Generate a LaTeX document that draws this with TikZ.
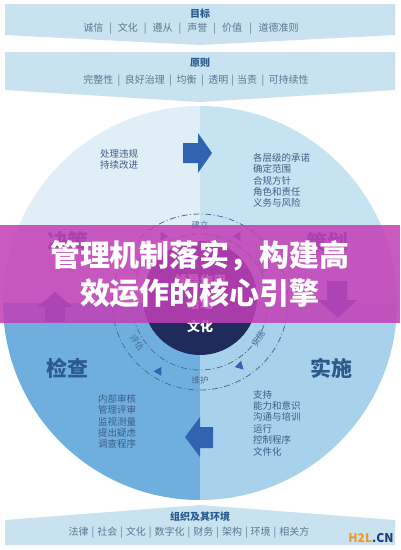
\documentclass[tikz,border=0pt]{standalone}
\usepackage{fontspec}
\newfontfamily\cjk{Noto Sans CJK SC}
\usetikzlibrary{positioning}
\definecolor{band_fill}{HTML}{C8E2F0}
\definecolor{title_blue}{HTML}{2A5B8F}
\definecolor{item_gray}{HTML}{5C7892}
\definecolor{item_blue}{HTML}{3E5F86}
\definecolor{quad_tl}{HTML}{E0EEF8}
\definecolor{quad_tr}{HTML}{C6E3F2}
\definecolor{quad_bl}{HTML}{6FAFDD}
\definecolor{quad_br}{HTML}{A8D2EC}
\definecolor{core_navy}{HTML}{1F2B5B}
\definecolor{arrow_blue}{HTML}{3064B0}
\definecolor{ring_blue}{HTML}{4A6E98}
\definecolor{phase_blue}{HTML}{2B5A8C}
\definecolor{banner_pink}{HTML}{C23FB6}
\definecolor{wm_orange}{HTML}{EE9A22}
\definecolor{wm_blue}{HTML}{1D3C78}
\newcommand{\bandsep}[1]{\hspace{#1}|\hspace{#1}}

\begin{document}
\begin{tikzpicture}[x=1pt,y=-1pt,
  band_title/.style={font=\cjk\bfseries\fontsize{10}{12}\selectfont, text=title_blue, inner sep=0pt},
  band_text/.style={font=\cjk\fontsize{10}{11}\selectfont, text=item_gray, inner sep=0pt},
  quad_text/.style={font=\cjk\fontsize{9.5}{11.4}\selectfont, text=item_blue, align=left, anchor=north west, inner sep=0pt},
  phase/.style={font=\cjk\bfseries\fontsize{21}{24}\selectfont, text=phase_blue, inner sep=0pt},
  core_text/.style={font=\cjk\bfseries\fontsize{13}{15}\selectfont, text=white, inner sep=0pt},
  ring_label/.style={font=\cjk\fontsize{8.5}{10}\selectfont, text=ring_blue, inner sep=0pt},
  ring_line/.style={draw=ring_blue, line width=0.8pt, dash pattern=on 6pt off 2.5pt on 1pt off 2.5pt},
  ring_tip/.style={fill=arrow_blue},
  block_arrow/.style={fill=arrow_blue},
  banner_text/.style={font=\cjk\bfseries\fontsize{30}{32}\selectfont, text=white, inner sep=0pt}]
\useasboundingbox[fill=white] (0,0) rectangle (400,550);

\fill[band_fill] (5,4) -- (395,4) -- (395,35) -- (200,45) -- (5,35) -- cycle;
\fill[band_fill] (5,52) -- (395,52) -- (395,90) -- (200,102) -- (5,90) -- cycle;
\fill[band_fill] (5,520) -- (200,505) -- (395,520) -- (395,545) -- (5,545) -- cycle;
\node[band_title] (goal) at (200,14) {目标};
\node[band_text] (goal_items) at (191,29) {诚信\bandsep{6pt}文化\bandsep{6pt}遵从\bandsep{6pt}声誉\bandsep{6pt}价值\bandsep{7pt}道德准则};
\node[band_title] (principle) at (200,63) {原则};
\node[band_text] (principle_items) at (196,81) {完整性\bandsep{4.5pt}良好治理\bandsep{4.5pt}均衡\bandsep{4.5pt}透明\bandsep{3pt}当责\bandsep{4.5pt}可持续性};
\node[band_title] (context) at (200,517) {组织及其环境};
\node[band_text] (context_items) at (189,533) {法律\bandsep{3pt}社会\bandsep{3pt}文化\bandsep{3pt}数字化\bandsep{3pt}财务\bandsep{3pt}架构\bandsep{3pt}环境\bandsep{3pt}相关方};

\begin{scope}
  \clip (200,303) circle (197);
  \fill[quad_tl] (0,100) rectangle (200,303);
  \fill[quad_tr] (200,100) rectangle (400,303);
  \fill[quad_bl] (0,303) rectangle (200,505);
  \fill[quad_br] (200,303) rectangle (400,505);
\end{scope}

\fill[block_arrow] (183,143) -- (198,143) -- (198,133) -- (212,153) -- (198,173) -- (198,163) -- (183,163) -- cycle;
\fill[block_arrow] (327,281) -- (347,281) -- (347,300) -- (357,300) -- (338,318) -- (318,300) -- (327,300) -- cycle;
\fill[block_arrow] (213,427) -- (200,427) -- (200,417) -- (185,437) -- (200,457) -- (200,448) -- (213,448) -- cycle;
\fill[block_arrow] (45,322) -- (45,307) -- (37,307) -- (55,292) -- (73,307) -- (65,307) -- (65,322) -- cycle;

\node[quad_text] (act_text) at (100,149) {处理违规\\持续改进};
\node[quad_text] (plan_text) at (253,153) {各层级的承诺\\确定范围\\合规方针\\角色和责任\\义务与风险};
\node[quad_text] (check_text) at (98,394) {内部审核\\管理评审\\监视测量\\提出疑虑\\调查程序};
\node[quad_text] (do_text) at (253,390) {支持\\能力和意识\\沟通与培训\\运行\\控制程序\\文件化};

\node[phase] (act) at (68,241) {决策};
\node[phase] (plan) at (327,242) {策划};
\node[phase] (check) at (67,368) {检查};
\node[phase] (do) at (331,368) {实施};

\draw[ring_line] (200,302) circle (88);
\draw[ring_line] (200,302) circle (68);
\node[ring_label] (establish) at (200,225) {建立};
\node[ring_label, rotate=-60] (develop) at (262,266) {开发};
\node[ring_label, rotate=58] (implement) at (258,339) {实施};
\node[ring_label] (maintain) at (200,380) {维护};
\node[ring_label, rotate=-55] (evaluate) at (137,343) {评估};
\node[ring_label, rotate=60] (improve) at (138,266) {改进};
\fill[ring_tip, shift={(163,236)}, rotate=-240] (5,0) -- (-3,4.5) -- (-3,-4.5) -- cycle;
\fill[ring_tip, shift={(238,236)}, rotate=60] (5,0) -- (-3,4.5) -- (-3,-4.5) -- cycle;
\fill[ring_tip, shift={(240,366)}, rotate=-45] (5,0) -- (-3,4.5) -- (-3,-4.5) -- cycle;
\fill[ring_tip, shift={(159,371)}, rotate=60] (5,0) -- (-3,4.5) -- (-3,-4.5) -- cycle;

\fill[core_navy] (200,298) circle (57);
\node[core_text] (leader) at (200,281) {领导作用};
\node[core_text] (govern) at (200,304) {治理};
\node[core_text] (culture) at (200,326) {文化};

\fill[banner_pink, fill opacity=0.86] (0,225) rectangle (400,323);
\node[banner_text] (headline1) at (200,256) {管理机制落实，构建高};
\node[banner_text] (headline2) at (200,293) {效运作的核心引擎};

\node[font=\cjk\bfseries\fontsize{12}{14}\selectfont, inner sep=0pt] (mark) at (371,538) {\textcolor{wm_orange}{H2L}\textcolor{wm_blue}{.CN}};
\end{tikzpicture}
\end{document}
